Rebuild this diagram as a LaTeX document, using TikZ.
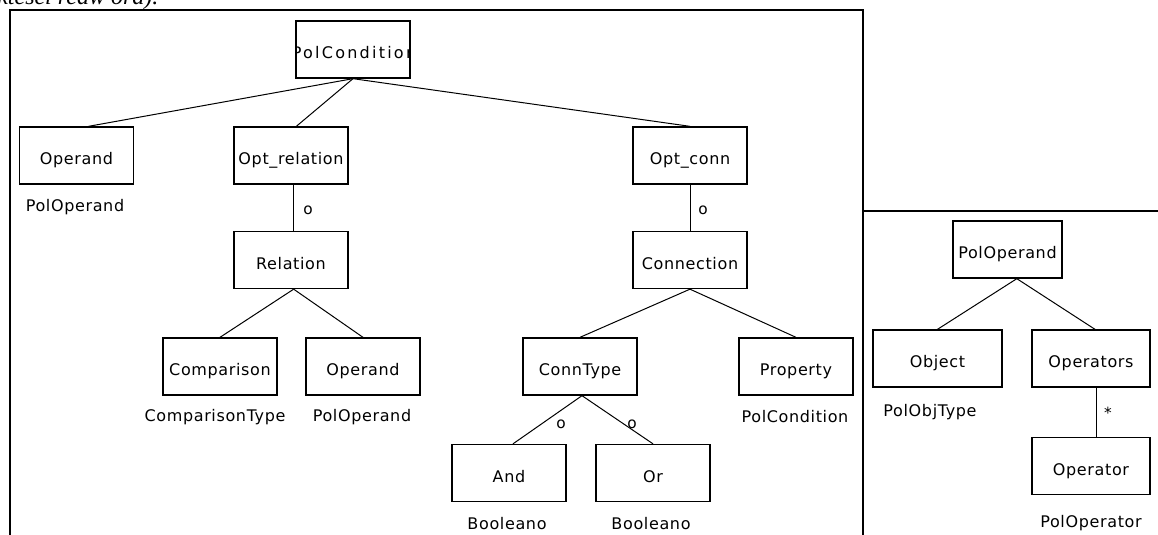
\documentclass[tikz,border=0pt]{standalone}
\usepackage{fontspec}
\setmainfont{DejaVu Sans}[LetterSpace=4]
\newfontfamily\capfont{Liberation Serif}
\begin{document}
\begin{tikzpicture}[x=0.75pt,y=-0.75pt,
  box/.style={draw, line width=1pt, minimum width=85.5pt, minimum height=42.75pt,
    inner sep=0pt, text height=13.5pt, text depth=0pt, font=\fontsize{12}{14}\selectfont},
  lbl/.style={inner sep=0pt, font=\fontsize{12}{14}\selectfont},
  mult/.style={inner sep=0pt, font=\fontsize{11.5}{13}\selectfont},
  link/.style={line width=0.75pt},
  frame/.style={line width=1.6pt}]
\useasboundingbox (0,0) rectangle (1158,535);

% running text above the figure, cut by the page edge
\node[anchor=base west, inner sep=0pt, font=\capfont\itshape\fontsize{18}{20}\selectfont]
  (caption) at (-3,5) {ktesel reaw ora).};

% frames
\draw[frame] (10,545) -- (10,10) -- (863,10) -- (863,545);
\draw[frame] (863,211) -- (1170,211);

% ---- PolCondition tree ----
\node[box] (pc) at (353,49.5) {};
\begin{scope}
  \clip (pc.south west) rectangle (pc.north east);
  \node[lbl, font=\fontsize{12}{14}\selectfont\addfontfeature{LetterSpace=14}] (pctext) at (354,53) {PolCondition};
\end{scope}

\node[box] (op1) at (76.5,155.5) {Operand};
\node[box] (optrel) at (291,155.5) {Opt\_relation};
\node[box] (optconn) at (690,155.5) {Opt\_conn};
\node[box] (rel) at (291,260) {Relation};
\node[box] (conn) at (690,260) {Connection};
\node[box] (comp) at (220,366.5) {Comparison};
\node[box] (op2) at (363,366.5) {Operand};
\node[box] (ctype) at (580,366.5) {ConnType};
\node[box] (prop) at (796,366.5) {Property};
\node[box] (and) at (509,473) {And};
\node[box] (or) at (653,473) {Or};

\node[lbl] (t1) at (75,207) {PolOperand};
\node[lbl] (t2) at (215,417) {ComparisonType};
\node[lbl] (t3) at (362,417) {PolOperand};
\node[lbl] (t4) at (795,417) {PolCondition};
\node[lbl] (t5) at (507,524) {Booleano};
\node[lbl] (t6) at (651,524) {Booleano};

\draw[link] (pc.south) -- ([xshift=9pt]op1.north);
\draw[link] (pc.south) -- ([xshift=4pt]optrel.north);
\draw[link] (pc.south) -- (optconn.north);
\draw[link] ([xshift=2pt]optrel.south) -- ([xshift=2pt]rel.north);
\draw[link] (optconn.south) -- (conn.north);
\draw[link] ([xshift=2pt]rel.south) -- (comp.north);
\draw[link] ([xshift=2pt]rel.south) -- (op2.north);
\draw[link] (conn.south) -- (ctype.north);
\draw[link] (conn.south) -- (prop.north);
\draw[link] ([xshift=1.5pt]ctype.south) -- ([xshift=3pt]and.north);
\draw[link] ([xshift=1.5pt]ctype.south) -- (or.north);

\node[mult] (m1) at (308,210) {o};
\node[mult] (m2) at (703,210) {o};
\node[mult] (m3) at (561,424) {o};
\node[mult] (m4) at (632,424) {o};

% ---- PolOperand tree ----
\node[box, minimum width=81.75pt] (polop) at (1007.5,249.5) {PolOperand};
\node[box, minimum width=96.75pt] (obj) at (937.5,358.5) {Object};
\node[box, minimum width=88.5pt] (opers) at (1091,358.5) {Operators};
\node[box, minimum width=88.5pt] (oper) at (1091,466) {Operator};

\node[lbl] (t7) at (930,412) {PolObjType};
\node[lbl] (t8) at (1091,523) {PolOperator};

\draw[link] ([xshift=7pt]polop.south) -- (obj.north);
\draw[link] ([xshift=7pt]polop.south) -- ([xshift=3pt]opers.north);
\draw[link] ([xshift=4pt]opers.south) -- ([xshift=4pt]oper.north);
\node[mult] (m5) at (1108,413) {*};
\end{tikzpicture}
\end{document}
